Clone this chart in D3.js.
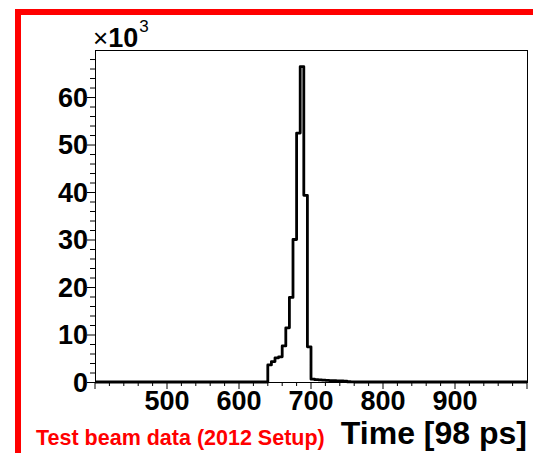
<!DOCTYPE html>
<html>
<head>
<meta charset="utf-8">
<script src="https://cdn.jsdelivr.net/npm/d3@7"></script>
<style>
  body { margin: 0; background: white; }
  text { font-family: "Liberation Sans", Arial, sans-serif; }
</style>
</head>
<body>
<script>
// data (counts in units of 10^3, bins of 5 time units)
const binLow = [400, 635, 640, 645, 650, 655, 660, 665, 670, 675, 680, 685, 690, 695,
                700, 705, 710, 715, 720, 725, 730, 735, 740, 745, 750, 755, 760];
const counts = [0, 0, 3.6, 4.3, 5.1, 5.3, 7.6, 11.4, 17.8, 30.0, 52.4, 66.4, 39.3, 7.4,
                0.6, 0.5, 0.45, 0.4, 0.35, 0.3, 0.3, 0.25, 0.25, 0.2, 0.05, 0.03, 0];
const xTicks = [500, 600, 700, 800, 900];
const yTicks = [0, 10, 20, 30, 40, 50, 60];

const largeur = 533, hauteur = 453;
const gauche = 95, droite = 527, haut = 50, bas = 382;

const svg = d3.select("body").append("svg")
  .attr("width", largeur)
  .attr("height", hauteur)
  .style("background", "white");

// red border (left + top)
svg.append("rect").attr("x", 15).attr("y", 9).attr("width", 6).attr("height", hauteur - 9).attr("fill", "#ff0000");
svg.append("rect").attr("x", 15).attr("y", 9).attr("width", largeur - 15).attr("height", 6).attr("fill", "#ff0000");

const x = d3.scaleLinear().domain([400, 1000]).range([gauche, droite]);
const y = d3.scaleLinear().domain([0, 69.9]).range([bas, haut]);

// frame
svg.append("rect")
  .attr("x", gauche + 0.5).attr("y", haut + 0.5)
  .attr("width", droite - gauche).attr("height", bas - haut)
  .attr("fill", "none").attr("stroke", "black").attr("stroke-width", 1);

// x axis ticks (below)
const xMinor = d3.range(400, 1001, 20);
svg.append("g").selectAll("line").data(xMinor).join("line")
  .attr("x1", d => x(d)).attr("x2", d => x(d))
  .attr("y1", bas).attr("y2", d => bas + (d % 100 === 0 ? 7 : 4))
  .attr("stroke", "black").attr("stroke-width", 1);

svg.append("g").selectAll("text").data(xTicks).join("text")
  .attr("x", d => x(d)).attr("y", 409.5)
  .attr("text-anchor", "middle")
  .style("font-size", "27px").style("font-weight", "bold")
  .text(d => d);

// y axis ticks (left)
const yMinor = d3.range(0, 69, 2);
svg.append("g").selectAll("line").data(yMinor).join("line")
  .attr("x1", d => gauche - (d % 10 === 0 ? 8 : 5)).attr("x2", gauche)
  .attr("y1", d => y(d) + 0.5).attr("y2", d => y(d) + 0.5)
  .attr("stroke", "black").attr("stroke-width", 1);

svg.append("g").selectAll("text").data(yTicks).join("text")
  .attr("x", 88).attr("y", d => y(d) + 9.5)
  .attr("text-anchor", "end")
  .style("font-size", "27px").style("font-weight", "bold")
  .text(d => d);

// x10^3
const expo = svg.append("text").attr("x", 93).attr("y", 46.5);
expo.append("tspan").style("font-size", "26px").text("×");
expo.append("tspan").style("font-size", "27px").style("font-weight", "bold").text("10");
expo.append("tspan").attr("dx", 1).attr("dy", -15).style("font-size", "17px").text("3");

// histogram
const points = binLow.map((t, i) => [t, counts[i]]);
points.push([1000, 0]);
const ligne = d3.line()
  .x(d => x(d[0]))
  .y(d => y(d[1]))
  .curve(d3.curveStepAfter);
svg.append("path")
  .attr("d", ligne(points))
  .attr("fill", "none")
  .attr("stroke", "black")
  .attr("stroke-width", 2.8)
  .attr("stroke-linejoin", "round");

// axis title
svg.append("text")
  .attr("x", droite).attr("y", 444)
  .attr("text-anchor", "end")
  .style("font-size", "32px").style("font-weight", "bold")
  .text("Time [98 ps]");

// red label
svg.append("text")
  .attr("x", 36).attr("y", 445)
  .style("font-size", "21.5px").style("font-weight", "bold")
  .attr("fill", "#ff0000")
  .text("Test beam data (2012 Setup)");
</script>
</body>
</html>
